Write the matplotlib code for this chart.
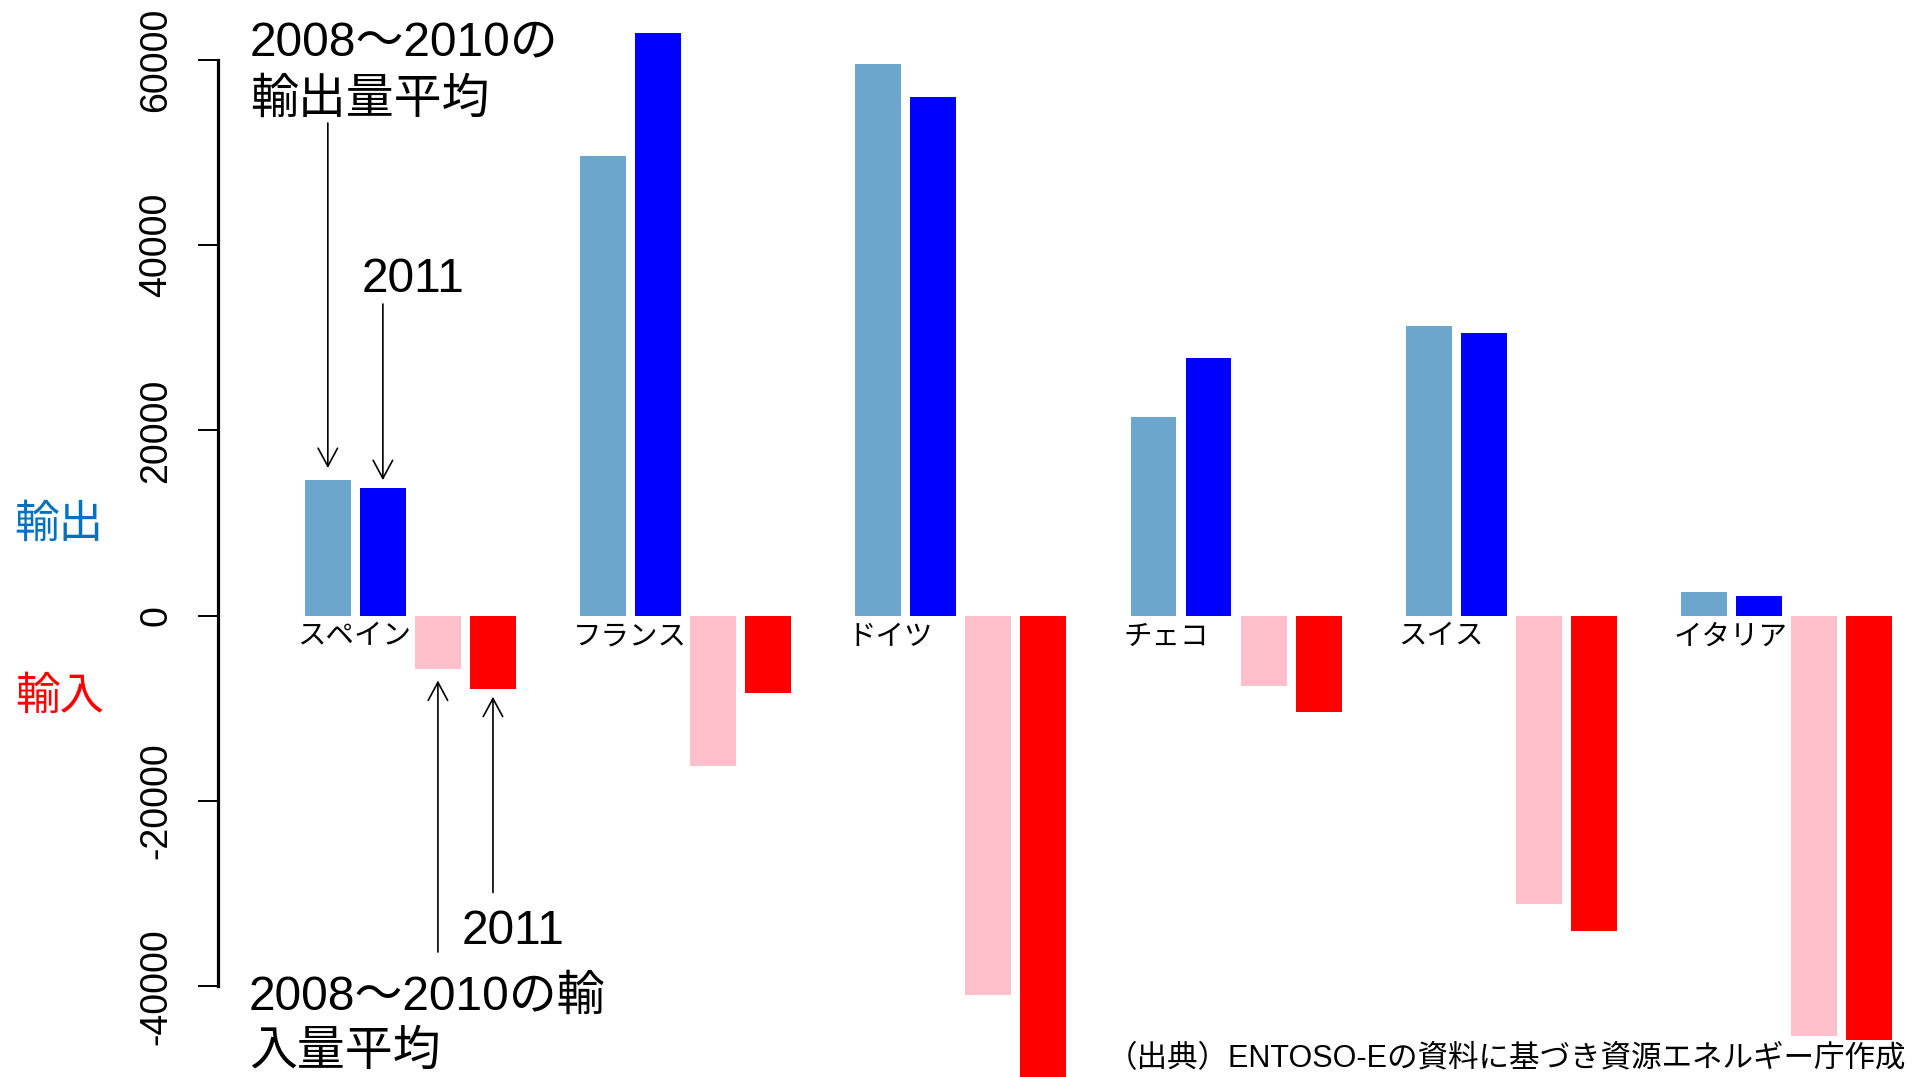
import matplotlib
matplotlib.use("Agg")
import matplotlib.pyplot as plt
import numpy as np

# electricity trade by country (MWh)
countries = ["スペイン", "フランス", "ドイツ", "チェコ", "スイス", "イタリア"]
export_avg = [14600, 49600, 59500, 21400, 31300, 2600]     # 2008-2010 average
export_2011 = [13800, 62900, 56000, 27800, 30500, 2100]
import_avg = [-5800, -16200, -40900, -7600, -31100, -45400]
import_2011 = [-7900, -8300, -52000, -10400, -34000, -45800]
yticks = [-40000, -20000, 0, 20000, 40000, 60000]

plt.rcParams["font.family"] = ["Liberation Sans", "Noto Sans CJK JP"]
plt.rcParams["axes.unicode_minus"] = False

W, H = 1912, 1077
fig = plt.figure(figsize=(W / 100, H / 100), dpi=100)
ax = fig.add_axes([0, 0, 1, 1])

groups = np.arange(len(countries)) * 6.0
series = [(export_avg, "#6CA6CD"), (export_2011, "#0000FF"),
          (import_avg, "#FFC0CB"), (import_2011, "#FF0000")]
for j, (vals, col) in enumerate(series):
    ax.bar(groups + j * 1.2 + 0.5, vals, width=1.0, color=col, linewidth=0)

ax.set_xlim(-6.647, 35.036)
ax.set_ylim(-49790, 66454)

for s in ["top", "right", "bottom"]:
    ax.spines[s].set_visible(False)
ax.spines["left"].set_position(("data", -1.894))
ax.spines["left"].set_bounds(-40000, 60000)
ax.spines["left"].set_linewidth(2.3)
ax.xaxis.set_visible(False)
ax.set_yticks(yticks)
ax.set_yticklabels([str(v) for v in yticks], rotation=90, va="center")
ax.tick_params(axis="y", length=14.5, width=1.4, pad=17, labelsize=27)

# country names just under the zero line
for g, name in zip(groups, countries):
    ax.text(g - 0.16, -2250, name, ha="left", va="center", fontsize=20.5,
            family=["Noto Sans CJK JP"])

# arrows pointing at the Spain bars
arr = dict(arrowstyle="->,head_length=0.65,head_width=0.35", mutation_scale=20,
           lw=1.2, color="black", shrinkA=0, shrinkB=0)
ax.annotate("", xy=(0.5, export_avg[0] + 1340), xytext=(0.5, 53170), arrowprops=arr)
ax.annotate("", xy=(1.7, export_2011[0] + 830), xytext=(1.7, 33640), arrowprops=arr)
ax.annotate("", xy=(2.9, import_avg[0] - 1200), xytext=(2.9, -36300), arrowprops=arr)
ax.annotate("", xy=(4.1, import_2011[0] - 850), xytext=(4.1, -29875), arrowprops=arr)


def ftext(px, py, s, **kw):
    fig.text(px / W, 1 - py / H, s, **kw)


ftext(250, 72, "2008〜2010の\n輸出量平均", ha="left", va="center", fontsize=34.5, linespacing=1.36)
ftext(362, 280, "2011", ha="left", va="center", fontsize=34.5)
ftext(462, 931, "2011", ha="left", va="center", fontsize=34.5)
ftext(249, 1025, "2008〜2010の輸\n入量平均", ha="left", va="center", fontsize=34.5, linespacing=1.28)

ftext(59, 524, "輸出", ha="center", va="center", fontsize=32, color="#0070C0",
      family=["Noto Sans CJK JP"])
ftext(60, 696, "輸入", ha="center", va="center", fontsize=32, color="#FF0000",
      family=["Noto Sans CJK JP"])

ftext(1906, 1059, "（出典）ENTOSO-Eの資料に基づき資源エネルギー庁作成",
      ha="right", va="center", fontsize=22)

fig.savefig("out.png", dpi=100)
